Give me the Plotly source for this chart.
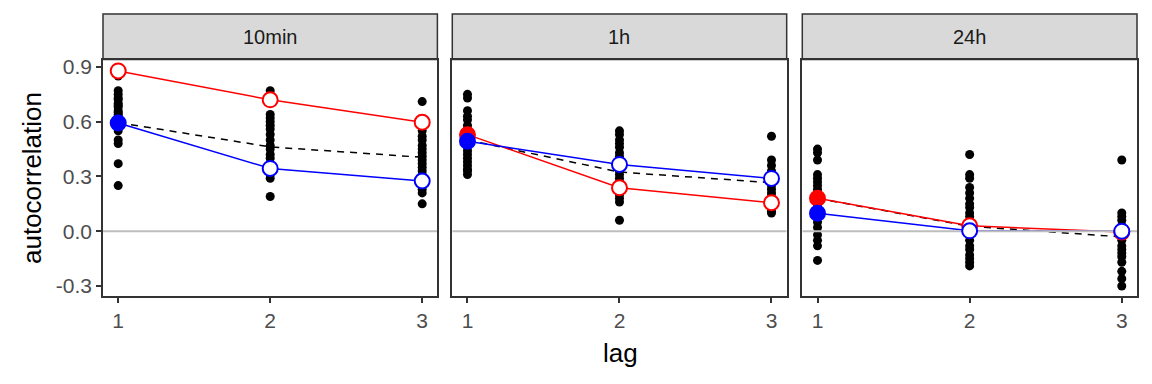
import plotly.graph_objects as go

# ---------------- data ----------------
panels = ["10min", "1h", "24h"]
lags = [1, 2, 3]

# individual autocorrelations (black dots), per panel, per lag
dots_10min_lag1 = [0.85, 0.77, 0.75, 0.73, 0.72, 0.70, 0.69, 0.68, 0.66, 0.65, 0.64, 0.63,
                   0.62, 0.61, 0.60, 0.58, 0.55, 0.50, 0.48, 0.37, 0.25]
dots_10min_lag2 = [0.77, 0.75, 0.64, 0.62, 0.60, 0.58, 0.56, 0.53, 0.50, 0.47, 0.45, 0.42,
                   0.40, 0.37, 0.35, 0.33, 0.31, 0.29, 0.19]
dots_10min_lag3 = [0.71, 0.55, 0.52, 0.50, 0.47, 0.45, 0.43, 0.41, 0.39, 0.37, 0.35, 0.33,
                   0.31, 0.29, 0.27, 0.25, 0.23, 0.21, 0.15]
dots_1h_lag1 = [0.75, 0.73, 0.66, 0.63, 0.61, 0.58, 0.56, 0.54, 0.52, 0.50, 0.48, 0.46,
                0.44, 0.42, 0.40, 0.38, 0.36, 0.34, 0.33, 0.31]
dots_1h_lag2 = [0.55, 0.53, 0.50, 0.48, 0.46, 0.43, 0.41, 0.38, 0.36, 0.33, 0.31, 0.29,
                0.27, 0.25, 0.22, 0.20, 0.18, 0.16, 0.06]
dots_1h_lag3 = [0.52, 0.39, 0.36, 0.33, 0.31, 0.29, 0.27, 0.25, 0.23, 0.21, 0.19, 0.17,
                0.15, 0.13, 0.11, 0.10]
dots_24h_lag1 = [0.45, 0.43, 0.39, 0.31, 0.29, 0.27, 0.25, 0.23, 0.21, 0.19, 0.17, 0.15,
                 0.13, 0.11, 0.08, 0.05, 0.02, -0.02, -0.05, -0.08, -0.16]
dots_24h_lag2 = [0.42, 0.31, 0.29, 0.24, 0.21, 0.18, 0.15, 0.13, 0.10, 0.08, 0.05, 0.03,
                 0.00, -0.02, -0.05, -0.08, -0.10, -0.13, -0.15, -0.17, -0.19]
dots_24h_lag3 = [0.39, 0.10, 0.08, 0.06, 0.03, 0.01, -0.01, -0.03, -0.05, -0.08, -0.10,
                 -0.12, -0.14, -0.17, -0.22, -0.26, -0.30]

dots = {
    "10min": [dots_10min_lag1, dots_10min_lag2, dots_10min_lag3],
    "1h": [dots_1h_lag1, dots_1h_lag2, dots_1h_lag3],
    "24h": [dots_24h_lag1, dots_24h_lag2, dots_24h_lag3],
}

# mean (dashed) line
mean_10min = [0.595, 0.462, 0.405]
mean_1h = [0.500, 0.324, 0.266]
mean_24h = [0.180, 0.027, -0.031]
means = {"10min": mean_10min, "1h": mean_1h, "24h": mean_24h}

# red series
red_10min = [0.878, 0.720, 0.597]
red_1h = [0.529, 0.238, 0.156]
red_24h = [0.180, 0.030, -0.005]
red = {"10min": red_10min, "1h": red_1h, "24h": red_24h}
red_filled = {"10min": [False, False, False], "1h": [True, False, False], "24h": [True, False, False]}

# blue series
blue_10min = [0.593, 0.344, 0.275]
blue_1h = [0.493, 0.366, 0.289]
blue_24h = [0.098, 0.002, 0.000]
blue = {"10min": blue_10min, "1h": blue_1h, "24h": blue_24h}
blue_filled = {"10min": [True, False, False], "1h": [True, False, False], "24h": [True, False, False]}

y_tick_vals = [-0.3, 0.0, 0.3, 0.6, 0.9]
y_tick_labels = ["-0.3", "0.0", "0.3", "0.6", "0.9"]
x_tick_vals = [1, 2, 3]
x_tick_labels = ["1", "2", "3"]
x_range = [0.9, 3.1]
y_range = [-0.355, 0.938]

# ---------------- figure ----------------
W, H = 1152, 384
ML, MR, MT, MB = 103, 15, 60, 88
FONT = "Liberation Sans, Arial, sans-serif"
domains = [[0.0, 0.3234], [0.3378, 0.6612], [0.6763, 1.0]]

fig = go.Figure()

for i, p in enumerate(panels):
    xa = "x" if i == 0 else f"x{i+1}"
    ya = "y" if i == 0 else f"y{i+1}"
    # black dots
    xs, ys = [], []
    for lag, vals in zip(lags, dots[p]):
        xs += [lag] * len(vals)
        ys += vals
    fig.add_trace(go.Scatter(x=xs, y=ys, mode="markers", xaxis=xa, yaxis=ya,
                             marker=dict(color="black", size=9, line=dict(width=0)),
                             hoverinfo="skip"))
    # dashed mean line
    fig.add_trace(go.Scatter(x=lags, y=means[p], mode="lines", xaxis=xa, yaxis=ya,
                             line=dict(color="black", width=1.5, dash="7px,6px")))
    # coloured lines
    fig.add_trace(go.Scatter(x=lags, y=red[p], mode="lines", xaxis=xa, yaxis=ya,
                             line=dict(color="#FF0000", width=1.5)))
    fig.add_trace(go.Scatter(x=lags, y=blue[p], mode="lines", xaxis=xa, yaxis=ya,
                             line=dict(color="#0000FF", width=1.5)))
    # zero reference line
    fig.add_trace(go.Scatter(x=x_range, y=[0, 0], mode="lines", xaxis=xa, yaxis=ya,
                             line=dict(color="#BEBEBE", width=2), hoverinfo="skip"))
    # coloured markers
    for vals, filled, col in [(red[p], red_filled[p], "#FF0000"), (blue[p], blue_filled[p], "#0000FF")]:
        fig.add_trace(go.Scatter(
            x=lags, y=vals, mode="markers", xaxis=xa, yaxis=ya,
            marker=dict(size=15, color=[col if f else "white" for f in filled],
                        line=dict(color=col, width=2))))

axis_common = dict(showgrid=False, zeroline=False, showline=True, mirror=True,
                   linecolor="#333333", linewidth=1.5, ticks="outside", ticklen=5,
                   tickcolor="#333333", tickwidth=1.5,
                   tickfont=dict(family=FONT, size=21, color="#4D4D4D"))

for i in range(3):
    sx = "" if i == 0 else str(i + 1)
    fig.layout[f"xaxis{sx}"] = dict(axis_common, domain=domains[i], range=x_range,
                                    tickvals=x_tick_vals, ticktext=x_tick_labels,
                                    anchor=f"y{sx}")
    fig.layout[f"yaxis{sx}"] = dict(axis_common, domain=[0, 1], range=y_range,
                                    tickvals=y_tick_vals, ticktext=y_tick_labels,
                                    showticklabels=(i == 0), ticks="outside" if i == 0 else "",
                                    anchor=f"x{sx}")

PH = H - MT - MB
strip_bottom = 1 + 0.5 / PH
strip_top = 1 + (MT - 14) / PH
shapes, annos = [], []
for i, p in enumerate(panels):
    shapes.append(dict(type="rect", xref="paper", yref="paper",
                       x0=domains[i][0], x1=domains[i][1], y0=strip_bottom, y1=strip_top,
                       fillcolor="#D9D9D9", line=dict(color="#333333", width=1.5), layer="below"))
    annos.append(dict(text=p, xref="paper", yref="paper",
                      x=(domains[i][0] + domains[i][1]) / 2, y=(strip_bottom + strip_top) / 2,
                      showarrow=False, xanchor="center", yanchor="middle",
                      font=dict(family=FONT, size=20, color="#1A1A1A")))

annos.append(dict(text="lag", xref="paper", yref="paper", x=0.5, y=-(353 - (H - MB)) / PH,
                  showarrow=False, xanchor="center", yanchor="middle",
                  font=dict(family=FONT, size=26, color="black")))
annos.append(dict(text="autocorrelation", xref="paper", yref="paper",
                  x=-(ML - 32) / (W - ML - MR), y=(296 - 178) / PH, textangle=-90,
                  showarrow=False, xanchor="center", yanchor="middle",
                  font=dict(family=FONT, size=26, color="black")))

fig.update_layout(width=W, height=H, margin=dict(l=ML, r=MR, t=MT, b=MB, pad=0),
                  showlegend=False, plot_bgcolor="white", paper_bgcolor="white",
                  shapes=shapes, annotations=annos)

fig.write_html("out.html", config={"displayModeBar": False},
               post_script="document.body.style.margin='0';document.body.style.padding='0';document.body.style.overflow='hidden';")
